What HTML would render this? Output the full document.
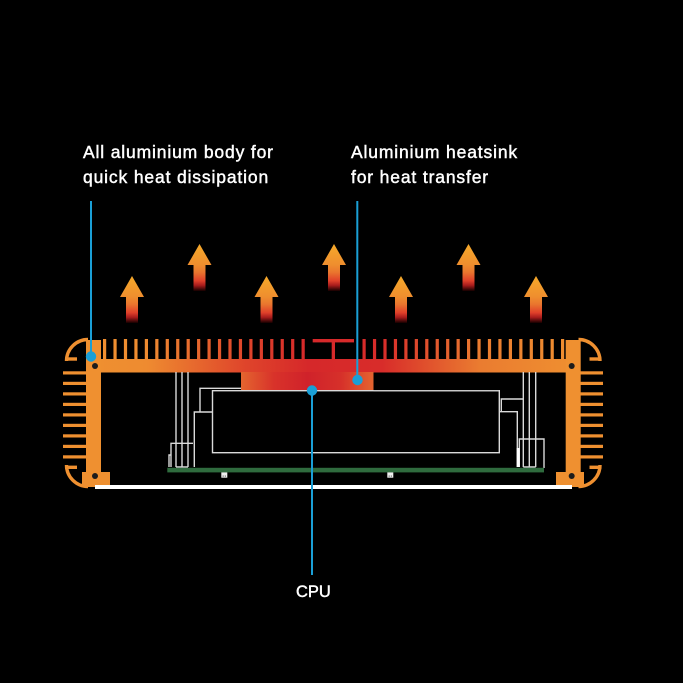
<!DOCTYPE html>
<html><head><meta charset="utf-8"><style>
html,body{margin:0;padding:0;background:#000;}
svg{display:block;}
text{font-family:"Liberation Sans",sans-serif;fill:#fff;stroke:#fff;stroke-width:0.45;}
</style></head><body>
<svg width="683" height="683" viewBox="0 0 683 683" xmlns="http://www.w3.org/2000/svg">
<defs>
<linearGradient id="plate" gradientUnits="userSpaceOnUse" x1="88" y1="0" x2="578" y2="0">
<stop offset="0" stop-color="#EF9030"/>
<stop offset="0.12" stop-color="#EE8B30"/>
<stop offset="0.32" stop-color="#DF452B"/>
<stop offset="0.45" stop-color="#D6282A"/>
<stop offset="0.6" stop-color="#D82C2A"/>
<stop offset="0.8" stop-color="#EA7C30"/>
<stop offset="1" stop-color="#EF9030"/>
</linearGradient>
<linearGradient id="block" gradientUnits="userSpaceOnUse" x1="241" y1="0" x2="374" y2="0">
<stop offset="0" stop-color="#E4652F"/>
<stop offset="0.25" stop-color="#D8322A"/>
<stop offset="0.5" stop-color="#D0222A"/>
<stop offset="0.75" stop-color="#D6302A"/>
<stop offset="1" stop-color="#E4652F"/>
</linearGradient>
<linearGradient id="arrow" x1="0" y1="0" x2="0" y2="1">
<stop offset="0" stop-color="#F6AA2A"/>
<stop offset="0.44" stop-color="#EF8E2E"/>
<stop offset="0.6" stop-color="#EA762E"/>
<stop offset="0.78" stop-color="#E0402A"/>
<stop offset="0.88" stop-color="#A81C1C"/>
<stop offset="1" stop-color="#150000"/>
</linearGradient>
<g id="arr">
<path d="M0 0 L12 21 L6 21 L6 47 L-6 47 L-6 21 L-12 21 Z" fill="url(#arrow)"/>
</g>
</defs>

<!-- arrows -->
<use href="#arr" x="132" y="276"/>
<use href="#arr" x="199.5" y="244"/>
<use href="#arr" x="266.5" y="276"/>
<use href="#arr" x="334" y="244"/>
<use href="#arr" x="401" y="276"/>
<use href="#arr" x="468.5" y="244"/>
<use href="#arr" x="536" y="276"/>

<!-- top fins -->
<g fill="url(#plate)">
<rect x="103" y="339" width="3.2" height="21"/><rect x="113.45" y="339" width="3.2" height="21"/><rect x="123.9" y="339" width="3.2" height="21"/><rect x="134.35" y="339" width="3.2" height="21"/><rect x="144.8" y="339" width="3.2" height="21"/><rect x="155.25" y="339" width="3.2" height="21"/><rect x="165.7" y="339" width="3.2" height="21"/><rect x="176.15" y="339" width="3.2" height="21"/><rect x="186.6" y="339" width="3.2" height="21"/><rect x="197.05" y="339" width="3.2" height="21"/><rect x="207.5" y="339" width="3.2" height="21"/><rect x="217.95" y="339" width="3.2" height="21"/><rect x="228.4" y="339" width="3.2" height="21"/><rect x="238.85" y="339" width="3.2" height="21"/><rect x="249.3" y="339" width="3.2" height="21"/><rect x="259.75" y="339" width="3.2" height="21"/><rect x="270.2" y="339" width="3.2" height="21"/><rect x="280.65" y="339" width="3.2" height="21"/><rect x="291.1" y="339" width="3.2" height="21"/><rect x="301.55" y="339" width="3.2" height="21"/>
<rect x="362.5" y="339" width="3.2" height="21"/><rect x="372.95" y="339" width="3.2" height="21"/><rect x="383.4" y="339" width="3.2" height="21"/><rect x="393.85" y="339" width="3.2" height="21"/><rect x="404.3" y="339" width="3.2" height="21"/><rect x="414.75" y="339" width="3.2" height="21"/><rect x="425.2" y="339" width="3.2" height="21"/><rect x="435.65" y="339" width="3.2" height="21"/><rect x="446.1" y="339" width="3.2" height="21"/><rect x="456.55" y="339" width="3.2" height="21"/><rect x="467" y="339" width="3.2" height="21"/><rect x="477.45" y="339" width="3.2" height="21"/><rect x="487.9" y="339" width="3.2" height="21"/><rect x="498.35" y="339" width="3.2" height="21"/><rect x="508.8" y="339" width="3.2" height="21"/><rect x="519.25" y="339" width="3.2" height="21"/><rect x="529.7" y="339" width="3.2" height="21"/><rect x="540.15" y="339" width="3.2" height="21"/><rect x="550.6" y="339" width="3.2" height="21"/><rect x="561" y="339" width="3.2" height="21"/>
<!-- T piece -->
<rect x="312.7" y="339" width="41.3" height="3.4"/>
<rect x="331.7" y="342" width="3.3" height="18"/>
<!-- plate -->
<rect x="88" y="359" width="490" height="13.5"/>
</g>

<!-- heat block -->
<rect x="241" y="372" width="132.5" height="18.5" fill="url(#block)"/>

<!-- walls and side fins -->
<g fill="#EF9030">
<rect x="86" y="340" width="15" height="147"/>
<rect x="565.7" y="340" width="15" height="147"/>
<rect x="82" y="472" width="28" height="15"/>
<rect x="556" y="472" width="28" height="15"/>
<!-- left fins -->
<rect x="63" y="371.3" width="25" height="3.2"/><rect x="63" y="381.8" width="25" height="3.2"/><rect x="63" y="392.3" width="25" height="3.2"/><rect x="63" y="402.8" width="25" height="3.2"/><rect x="63" y="413.3" width="25" height="3.2"/><rect x="63" y="423.8" width="25" height="3.2"/><rect x="63" y="434.3" width="25" height="3.2"/><rect x="63" y="444.8" width="25" height="3.2"/><rect x="63" y="455.3" width="25" height="3.2"/>
<!-- right fins -->
<rect x="578" y="371.3" width="25" height="3.2"/><rect x="578" y="381.8" width="25" height="3.2"/><rect x="578" y="392.3" width="25" height="3.2"/><rect x="578" y="402.8" width="25" height="3.2"/><rect x="578" y="413.3" width="25" height="3.2"/><rect x="578" y="423.8" width="25" height="3.2"/><rect x="578" y="434.3" width="25" height="3.2"/><rect x="578" y="444.8" width="25" height="3.2"/><rect x="578" y="455.3" width="25" height="3.2"/>
</g>
<g fill="none" stroke="#EF9030" stroke-width="3.4">
<path d="M66.5 361 A21.5 21.5 0 0 1 88 339.5"/>
<path d="M65 359 L77 359"/>
<path d="M66.5 465 A21.5 21.5 0 0 0 88 486.5"/>
<path d="M65 467.3 L77 467.3"/>
<path d="M600 361 A21.5 21.5 0 0 0 578.5 339.5"/>
<path d="M601.5 359 L589.5 359"/>
<path d="M600 465 A21.5 21.5 0 0 1 578.5 486.5"/>
<path d="M601.5 467.3 L589.5 467.3"/>
</g>
<g fill="#1c1c1c">
<circle cx="95" cy="366" r="3"/><circle cx="95" cy="476" r="3"/>
<circle cx="571.7" cy="366" r="3"/><circle cx="571.7" cy="476" r="3"/>
</g>

<!-- interior outlines -->
<g fill="none" stroke="#DADADA" stroke-width="1.4">
<rect x="212.5" y="390.7" width="286.8" height="62"/>
<path d="M200 412 L200 388.3 L241 388.3"/>
<path d="M194.3 467 L194.3 412 L212 412"/>
<path d="M176 372 L176 467 M182 372 L182 467 M188 372 L188 467 M176 467 L188 467"/>
<path d="M171 467 L171 443.3 L193 443.3"/>
<path d="M169 467 L169 455 L171 455"/>
<path d="M501.3 411.7 L501.3 399 L523.3 399"/>
<path d="M499 411.7 L517.3 411.7 L517.3 467"/>
<path d="M523.3 372 L523.3 467 M529.3 372 L529.3 467 M535.7 372 L535.7 467 M523.3 467 L535.7 467"/>
<path d="M519.3 467 L519.3 439 L544 439 L544 468"/>
</g>
<rect x="516.7" y="448" width="3" height="19" fill="#fff"/>
<line x1="373.5" y1="390.7" x2="499" y2="390.7" stroke="#C8C8C8" stroke-width="1.4"/>

<!-- PCB -->
<rect x="167.3" y="467.8" width="376.7" height="4.6" fill="#2F6B3E"/>
<rect x="221.3" y="472.4" width="6" height="5.3" fill="#EEE"/>
<rect x="387.3" y="472.4" width="6" height="5.3" fill="#EEE"/>
<g fill="#777"><rect x="222.6" y="475.5" width="1.2" height="1.2"/><rect x="224.8" y="475.5" width="1.2" height="1.2"/><rect x="388.6" y="475.5" width="1.2" height="1.2"/><rect x="390.8" y="475.5" width="1.2" height="1.2"/></g>

<!-- bottom plate -->
<rect x="95" y="485" width="477" height="4" fill="#fff"/>

<!-- callouts -->
<g stroke="#1A9FD6" stroke-width="2">
<line x1="91" y1="201" x2="91" y2="356"/>
<line x1="357.3" y1="201" x2="357.3" y2="380"/>
<line x1="312" y1="390" x2="312" y2="575"/>
</g>
<g fill="#1A9FD6">
<circle cx="91" cy="356.5" r="5.2"/>
<circle cx="357.5" cy="380" r="5.2"/>
<circle cx="312" cy="390.5" r="5.2"/>
</g>

<!-- labels -->
<text x="83" y="158" font-size="17.5" letter-spacing="0.85">All aluminium body for</text>
<text x="83" y="183" font-size="17.5" letter-spacing="0.85">quick heat dissipation</text>
<text x="351" y="158" font-size="17.5" letter-spacing="0.85">Aluminium heatsink</text>
<text x="351" y="183" font-size="17.5" letter-spacing="0.85">for heat transfer</text>
<text x="296" y="597" font-size="16.5" letter-spacing="0">CPU</text>
</svg>
</body></html>
